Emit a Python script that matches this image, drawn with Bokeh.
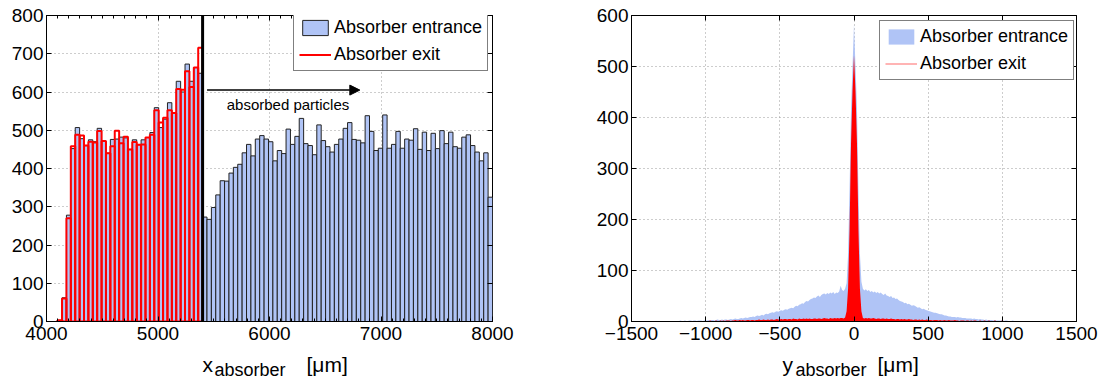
import numpy as np
from bokeh.plotting import figure
from bokeh.layouts import row, column
from bokeh.models import (ColumnDataSource, Span, Arrow, NormalHead, Label, Legend, LegendItem,
                          LinearAxis, SingleIntervalTicker, Range1d)
from bokeh.core.properties import value
from bokeh.embed import file_html
from bokeh.resources import INLINE

# ---------------- data: left panel (x at absorber) ----------------
X_LO, X_HI = 4100, 8000          # histogram range [um]
CUT_X = 5400                     # absorber edge [um]
entrance_x = [3, 62, 278, 452, 507, 478, 460, 475, 470, 505, 472, 440, 476, 477, 482, 480,
              450, 475, 462, 475, 481, 494,
              559, 507, 529, 572, 545, 628, 600, 673, 628, 664, 649,
              273, 267, 298, 331, 368, 367, 388, 403, 411, 441, 463, 433, 477, 486, 477, 470,
              420, 447, 439, 503, 463, 484, 531, 465, 460, 436, 514, 473, 457, 443, 463, 477,
              505, 520,
              476, 474, 467, 538, 497, 447, 453, 540, 453, 463, 497, 453, 477, 474, 504, 450,
              495, 447, 492, 452, 499, 465, 495, 457, 453, 482, 488, 460, 443, 420, 441, 325]
exit_x = [3, 60, 270, 458, 488, 486, 460, 470, 468, 498, 472, 440, 458, 499, 466, 483,
          450, 469, 462, 463, 481, 488,
          552, 520, 533, 552, 545, 608, 606, 654, 613, 664, 716]
arrow_x = [5440, 6810]
arrow_y = 605
note_x, note_y = 6166, 568
note_text = "absorbed particles"

# ---------------- data: right panel (y at absorber) ----------------
Y_BIN_START, Y_BIN_STEP = -1250, 10
entrance_y = ([0, 1, 0, 1, 1, 0] +
              [1, 1, 2, 1, 1, 2, 1, 1, 2, 2, 1, 2, 2, 1, 2, 2, 2, 1, 2, 2] +
              [2, 3, 2, 3, 3, 2, 3, 4, 3, 3, 4, 3, 4, 4, 3] +
              [4, 5, 4, 5, 6, 5, 5, 6, 7, 6, 7, 8, 7, 8, 9] +
              [9, 10, 9, 11, 12, 11, 12, 13, 12, 14, 15, 14, 16, 17] +
              [18, 17, 19, 20, 19, 21, 22, 21, 23, 24, 23, 25, 26] +
              [27, 26, 29, 31, 30, 33, 34] +
              [36, 35, 38, 40, 39, 42, 44] +
              [45, 47, 46, 49, 51, 48, 52, 54, 55] +
              [53, 56, 54, 57, 55, 58, 54, 57, 56, 59] +
              [70, 62, 60, 64] +
              [75, 132, 260, 419, 501, 583, 501, 419, 260, 132, 78] +
              [64, 61, 63, 60, 62, 58, 60, 57, 59] +
              [56, 58, 55, 57, 54, 52, 55, 51, 50] +
              [48, 50, 46, 47, 44, 45, 42, 40, 39] +
              [38, 36, 37, 34, 35, 33, 31, 32, 31] +
              [29, 27, 28, 26, 24, 25, 23, 22, 21] +
              [20, 19, 18, 17, 17, 16, 15, 14, 14] +
              [13, 12, 12, 11, 10, 10, 9, 9, 9, 8, 9] +
              [8, 8, 7, 7, 7, 6, 6, 6, 6, 5, 6] +
              [5, 5, 4, 5, 4, 4, 3, 4, 3, 3, 3] +
              [3, 2, 3, 2, 2, 2, 2, 2, 1, 2, 2, 1] +
              [1, 1, 2, 1, 1, 1, 1, 1, 0, 1, 1, 1, 0, 1, 0, 1, 0, 1, 0, 0, 0])
exit_y = ([0] * 21 +
          [1, 0, 1, 1, 0, 1, 1, 2, 1, 1, 1, 2, 1, 1, 2, 1, 2, 1, 2, 2] +
          [2, 1, 2, 2, 3, 2, 2, 3, 2, 3, 2, 2, 3, 3, 2, 3, 3, 2, 3, 3, 4, 3, 3, 4, 3, 3, 4, 3, 4] +
          [4, 3, 4, 5, 4, 4, 5, 4, 5, 5, 4, 5, 5, 4, 6, 5, 5, 4, 6, 5, 5, 6, 5, 6, 5,
           6, 5, 5, 6, 6, 5, 6, 6, 5, 6, 7, 6, 6, 5, 7, 6, 6, 7, 6, 7, 6, 7, 7, 6, 8] +
          [20, 64, 178, 350, 452, 522, 452, 350, 178, 64, 20] +
          [7, 6, 7, 6, 7, 6, 6, 7, 6, 5, 6, 6, 5, 6, 6, 5, 6, 5, 5, 6, 5, 5, 4, 5, 5,
           4, 5, 4, 5, 4, 4, 5, 4, 4, 3, 4, 4, 3, 4, 3, 4, 3, 3, 4, 3, 3, 3, 2, 3, 3] +
          [3, 2, 3, 2, 2, 3, 2, 2, 3, 2, 2, 2, 3, 2, 2, 1, 2, 2, 2, 1, 2, 2, 1, 2, 1, 2, 2,
           1, 1, 2, 1, 1, 2, 1, 1, 2, 1, 1, 1, 2, 1, 1, 1, 1, 2, 1, 1, 1, 1, 1, 1, 1, 1, 1] +
          [0] * 16)

legend_labels = ["Absorber entrance", "Absorber exit"]
axis_titles = [("x", "absorber", "[\u03bcm]"), ("y", "absorber", "[\u03bcm]")]

FONT = "Liberation Sans"
BLUE = "#b0c4f6"
GRID = "#9a9a9a"


def style(p, xtick, ytick, nminor_x=0):
    p.outline_line_color = "black"
    p.outline_line_width = 1
    p.background_fill_color = "white"
    p.border_fill_color = "white"
    p.xaxis.ticker = SingleIntervalTicker(interval=xtick, num_minor_ticks=nminor_x)
    p.yaxis.ticker = SingleIntervalTicker(interval=ytick, num_minor_ticks=0)
    for ax in (p.xaxis[0], p.yaxis[0]):
        ax.major_label_text_font = FONT
        ax.major_label_text_font_size = "19px"
        ax.major_label_text_color = "black"
        ax.major_tick_in = 5
        ax.major_tick_out = 0
        ax.minor_tick_in = 3
        ax.minor_tick_out = 0
        ax.axis_line_color = "black"
        ax.major_tick_line_color = "black"
        ax.minor_tick_line_color = "black"
    p.xaxis.major_label_standoff = 5
    p.yaxis.major_label_standoff = 3
    p.grid.grid_line_color = GRID
    p.grid.grid_line_dash = "1 3"
    p.grid.grid_line_width = 1
    top = LinearAxis(ticker=SingleIntervalTicker(interval=xtick, num_minor_ticks=nminor_x),
                     major_tick_in=5, major_tick_out=0, minor_tick_in=3, minor_tick_out=0,
                     axis_line_color=None, major_label_standoff=0,
                     major_label_text_font_size="1px", major_label_text_alpha=0)
    right = LinearAxis(ticker=SingleIntervalTicker(interval=ytick, num_minor_ticks=0),
                       major_tick_in=5, major_tick_out=0, minor_tick_out=0,
                       axis_line_color=None, major_label_standoff=0,
                       major_label_text_font_size="1px", major_label_text_alpha=0)
    p.add_layout(top, "above")
    p.add_layout(right, "right")


# ---------------- left figure ----------------
edges = np.linspace(X_LO, X_HI, len(entrance_x) + 1)
src_in = ColumnDataSource(dict(left=edges[:-1], right=edges[1:], top=entrance_x))
n_red = len(exit_x)
src_out = ColumnDataSource(dict(left=edges[:n_red], right=edges[1:n_red + 1], top=exit_x))

p1 = figure(width=560, height=355, output_backend="svg", toolbar_location=None,
            x_range=Range1d(4000, 8000), y_range=Range1d(0, 800),
            min_border_left=46, min_border_right=68, min_border_top=15, min_border_bottom=30)
style(p1, 1000, 100, nminor_x=10)
r_in = p1.quad(left="left", right="right", bottom=0, top="top", source=src_in,
               fill_color=BLUE, line_color="#222222", line_width=1)
r_out = p1.quad(left="left", right="right", bottom=0, top="top", source=src_out,
                fill_alpha=0, line_color="red", line_width=2)
r_out_leg = p1.line(x=np.array([np.nan]), y=np.array([np.nan]), line_color="red", line_width=2)
p1.add_layout(Span(location=CUT_X, dimension="height", line_color="black", line_width=3))
p1.add_layout(Arrow(end=NormalHead(size=10, fill_color="black", line_color="black"),
                    x_start=arrow_x[0], y_start=arrow_y, x_end=arrow_x[1], y_end=arrow_y,
                    line_color="black", line_width=1.5))
p1.add_layout(Label(x=note_x, y=note_y, text=note_text, text_font=FONT, text_font_size="15px",
                    text_align="center", text_baseline="middle", text_color="black"))
leg1 = Legend(items=[LegendItem(label=legend_labels[0], renderers=[r_in]),
                     LegendItem(label=legend_labels[1], renderers=[r_out_leg])],
              location=(247, 250))
p1.add_layout(leg1, "center")

# ---------------- right figure ----------------
centers = Y_BIN_START + Y_BIN_STEP * np.arange(len(entrance_y))
src_y = ColumnDataSource(dict(x=centers, a=entrance_y, b=exit_y))
p2 = figure(width=539, height=355, output_backend="svg", toolbar_location=None,
            x_range=Range1d(-1500, 1500), y_range=Range1d(0, 600),
            min_border_left=71, min_border_right=23, min_border_top=15, min_border_bottom=34)
style(p2, 500, 100)
p2.xaxis[0].major_label_overrides = {-1500: "\u22121500", -1000: "\u22121000", -500: "\u2212500"}
r_a = p2.varea(x="x", y1=0, y2="a", source=src_y, fill_color=BLUE)
r_b = p2.varea(x="x", y1=0, y2="b", source=src_y, fill_color="red")
r_b_leg = p2.line(x=np.array([np.nan]), y=np.array([np.nan]), line_color="#ff6a6a", line_width=1.2)
leg2 = Legend(items=[LegendItem(label=legend_labels[0], renderers=[r_a]),
                     LegendItem(label=legend_labels[1], renderers=[r_b_leg])],
              location=(248, 241))
p2.add_layout(leg2, "center")

for lg in (leg1, leg2):
    lg.label_text_font = FONT
    lg.label_text_font_size = "18px"
    lg.label_text_color = "black"
    lg.glyph_width = 32
    lg.glyph_height = 19
    lg.label_height = 20
    lg.label_standoff = 3
    lg.spacing = 6
    lg.padding = 5
    lg.margin = 0
    lg.border_line_color = "black"
    lg.border_line_width = 1
    lg.background_fill_alpha = 1

# ---------------- strip with the axis titles (main text, subscript, unit) ----------------
strip = figure(width=1099, height=26, output_backend="svg", toolbar_location=None,
               x_range=Range1d(0, 1099), y_range=Range1d(0, 26), min_border=0,
               x_axis_location=None, y_axis_location=None)
strip.grid.visible = False
strip.outline_line_color = None
main_x = [202, 306, 782, 877]
main_t = [axis_titles[0][0], axis_titles[0][2], axis_titles[1][0], axis_titles[1][2]]
strip.text(x=main_x, y=[17, 17, 17, 17], text=main_t, text_font=value(FONT),
           text_font_size="21px", text_color="black", text_baseline="alphabetic")
strip.text(x=[214, 795], y=[12, 12], text=[axis_titles[0][1], axis_titles[1][1]],
           text_font=value(FONT), text_font_size="18px", text_color="black",
           text_baseline="alphabetic")

layout = column(row(p1, p2), strip)
open("out.html", "w").write(file_html(layout, INLINE))
